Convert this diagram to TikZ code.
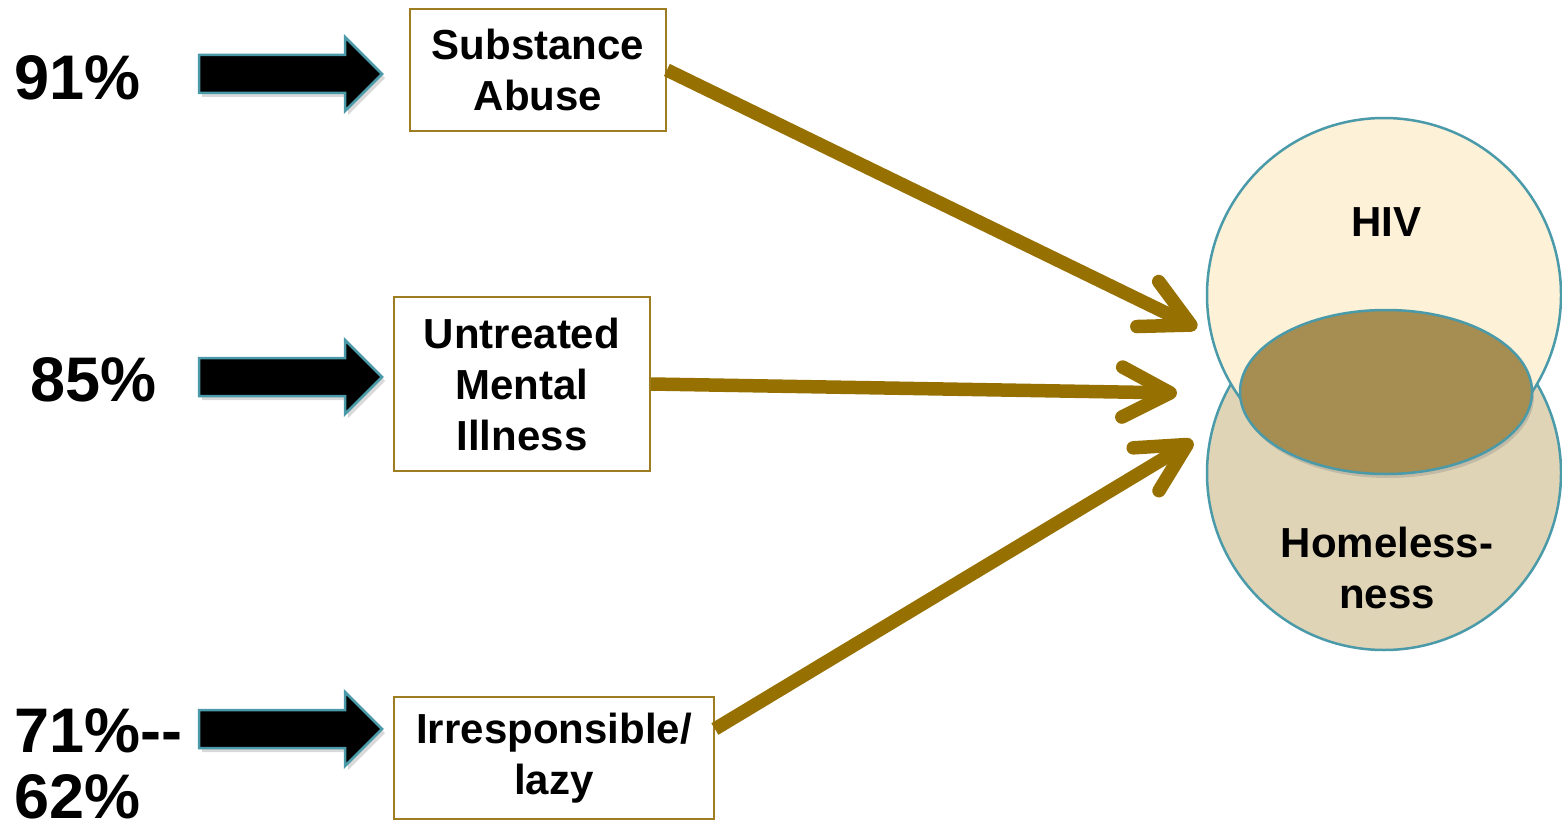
\documentclass[tikz,border=0pt]{standalone}
\usepackage{fontspec}
\setmainfont{Liberation Sans}
\usetikzlibrary{arrows.meta,shadows,calc}
\definecolor{linkgold}{HTML}{967000}
\definecolor{boxline}{HTML}{9E7D22}
\definecolor{edgeteal}{HTML}{4A9AA9}
\definecolor{hivfill}{HTML}{FDF1D7}
\definecolor{homefill}{HTML}{DFD4B6}
\definecolor{overlapfill}{HTML}{A68D52}
\begin{document}
\begin{tikzpicture}[x=1pt,y=-1pt,
  causebox/.style={draw=boxline, line width=1.8pt, fill=white, inner sep=0pt,
    align=center, font=\fontsize{42}{51}\selectfont\bfseries},
  pct/.style={inner sep=0pt, anchor=west, align=left,
    font=\fontsize{63}{66}\selectfont\bfseries},
  blockarrow/.style={fill=black, draw=edgeteal, line width=2.5pt, line join=miter,
    drop shadow={opacity=0.3, shadow xshift=3pt, shadow yshift=-4pt}},
  venn/.style={circle, draw=edgeteal, line width=2.5pt, minimum size=354pt, inner sep=0pt},
  vennlabel/.style={inner sep=0pt, align=center, font=\fontsize{42}{51}\selectfont\bfseries},
  link/.style={draw=linkgold, line width=13.5pt,
    -{Straight Barb[length=48pt, width=50pt, round]},
    preaction={draw=black, opacity=0.12,
      transform canvas={shift={(3pt,-5pt)}}}},
]
\useasboundingbox (0,0) rectangle (1562,829);

% Venn diagram: homelessness below, HIV above, overlap on top
\node[venn, fill=homefill] (home) at (1384,473) {};
\node[venn, fill=hivfill] (hiv) at (1384,295) {};
\draw[draw=edgeteal, line width=2.5pt, fill=overlapfill,
  drop shadow={opacity=0.3, shadow xshift=2pt, shadow yshift=-4pt}]
  (1386,392) ellipse [x radius=146pt, y radius=82pt];
\node[vennlabel] (hivtxt) at (1386,222) {HIV};
\node[vennlabel] (hometxt) at (1387,568) {Homeless-\\ness};

% Percentages
\node[pct] (p1) at (14,78) {91\%};
\node[pct] (p2) at (30,380) {85\%};
\node[pct] (p3) at (14,764) {71\%-{}-\\62\%};

% Block arrows
\foreach \yc in {74,377,729}{
  \draw[blockarrow] (199,\yc-19) -- (345,\yc-19) -- (345,\yc-37) -- (382,\yc)
    -- (345,\yc+37) -- (345,\yc+19) -- (199,\yc+19) -- cycle;
}

% Cause boxes
\node[causebox, minimum width=256pt, minimum height=122pt] (sa) at (538,70)
  {Substance\\Abuse};
\node[causebox, minimum width=256pt, minimum height=174pt] (mi) at (522,384)
  {Untreated\\Mental\\Illness};
\node[causebox, minimum width=320pt, minimum height=122pt] (lz) at (554,758)
  {Irresponsible/\\lazy};

% Links into the Venn diagram
\coordinate (t1) at (1197,328);
\coordinate (t2) at (1177,393);
\coordinate (t3) at (1193,441);
\draw[link] (sa.east) -- (t1);
\draw[link] (mi.east) -- (t2);
\draw[link] ([yshift=29pt]lz.east) -- (t3);
\end{tikzpicture}
\end{document}
